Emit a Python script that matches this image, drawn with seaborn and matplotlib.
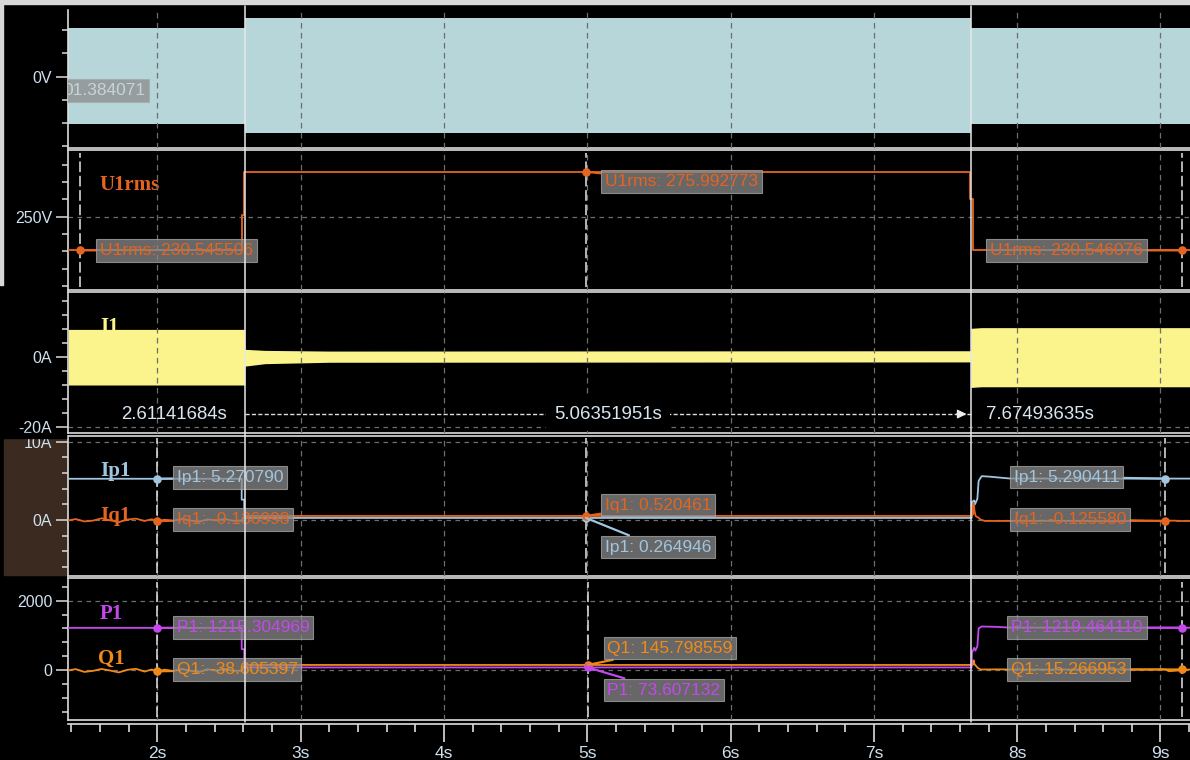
import matplotlib
matplotlib.use("Agg")
import matplotlib.pyplot as plt
import seaborn as sns
from matplotlib.patches import Rectangle
from matplotlib.lines import Line2D
from matplotlib.transforms import blended_transform_factory
from matplotlib.ticker import MultipleLocator

# ---------------------------------------------------------------- data
x_range = [1.378, 9.206]
x_major = [2, 3, 4, 5, 6, 7, 8, 9]
x_labels = ["2s", "3s", "4s", "5s", "6s", "7s", "8s", "9s"]
cursor_times = [2.61141684, 7.67493635]
cursor_labels = ["2.61141684s", "5.06351951s", "7.67493635s"]

# U1 waveform envelope (V)
u1_env_t = [1.378, 2.611, 2.611, 7.68, 7.68, 9.206]
u1_env_hi = [323, 323, 390, 390, 323, 323]
u1_env_lo = [-320, -320, -380, -380, -320, -320]
u1_readout = "01.384071"

# U1rms (V)
u1rms_t = [1.378, 2.588, 2.588, 2.606, 2.606, 7.671, 7.671, 7.689, 7.689, 9.206]
u1rms_v = [230.55, 230.55, 251.0, 251.0, 275.99, 275.99, 260.2, 260.2, 230.55, 230.55]
u1rms_mark_t = [1.460, 4.991, 9.148]
u1rms_mark_v = [230.545506, 275.992773, 230.546076]

# I1 waveform envelope (A)
i1_t = [1.378, 2.611, 2.611, 2.75, 3.2, 7.675, 7.675, 7.75, 9.206]
i1_hi = [7.8, 7.8, 2.1, 1.8, 1.6, 1.7, 8.1, 8.3, 8.3]
i1_lo = [-8.1, -8.1, -2.7, -2.0, -1.6, -1.5, -8.8, -8.6, -8.6]

# Ip1 / Iq1 (A)
ip1_t = [1.378, 2.588, 2.588, 2.606, 2.606, 7.682, 7.684, 7.700, 7.705, 7.722,
         7.731, 7.752, 7.80, 7.95, 9.206]
ip1_v = [5.27, 5.27, 2.6, 2.6, 0.265, 0.265, 2.3, 2.5, 2.0, 2.7,
         5.0, 5.6, 5.55, 5.30, 5.29]
iq1_t = [1.378, 1.43, 1.49, 1.55, 1.61, 1.67, 1.73, 1.79, 1.85, 1.91, 1.96, 2.0,
         2.05, 2.11, 2.17, 2.23, 2.29, 2.35, 2.41, 2.47, 2.53, 2.588, 2.606,
         7.682, 7.686, 7.690, 7.696, 7.702, 7.710, 7.725, 7.745, 7.775, 7.85,
         8.2, 8.6, 8.9, 9.10, 9.12, 9.206]
iq1_v = [-0.05, 0.12, -0.18, -0.08, 0.22, -0.04, -0.28, 0.06, 0.18, -0.12, 0.10, -0.14,
         0.04, -0.10, 0.16, -0.06, -0.22, 0.08, -0.04, 0.14, -0.10, -0.08, 0.52,
         0.52, 1.6, 0.7, 2.1, 1.2, 0.5, 0.35, 0.05, -0.12, -0.12,
         -0.10, -0.14, -0.12, -0.08, -0.13, -0.12]
ip1_mark_t = [1.999, 4.991, 9.031]
ip1_mark_v = [5.270790, 0.264946, 5.290411]
iq1_mark_t = [1.999, 4.991, 9.031]
iq1_mark_v = [-0.136998, 0.520461, -0.125580]

# P1 / Q1 (W, var)
p1_t = [1.378, 2.588, 2.588, 2.606, 2.606, 7.682, 7.684, 7.700, 7.708, 7.722,
        7.731, 7.752, 7.85, 7.95, 9.206]
p1_v = [1215.3, 1215.3, 600, 600, 73.6, 73.6, 500, 640, 560, 680,
        1200, 1255, 1245, 1222, 1219.5]
q1_t = [1.378, 1.43, 1.49, 1.55, 1.61, 1.67, 1.73, 1.79, 1.85, 1.91, 1.96, 2.0,
        2.05, 2.11, 2.17, 2.23, 2.29, 2.35, 2.41, 2.47, 2.53, 2.588, 2.606,
        7.682, 7.686, 7.690, 7.696, 7.702, 7.710, 7.725, 7.745, 7.775, 7.85,
        8.2, 8.6, 8.9, 9.03, 9.06, 9.206]
q1_v = [-10, 25, -55, -25, 30, -15, -70, 5, 35, -45, 15, -38.6,
        10, -30, 30, -20, -60, 20, -15, 30, -25, -20, 145.8,
        145.8, 260, 150, 280, 170, 130, 60, 15, 15, 18,
        12, 16, 14, 20, -35, 15]
p1_mark_t = [1.999, 5.003, 9.148]
p1_mark_v = [1215.304969, 73.607132, 1219.464110]
q1_mark_t = [1.999, 5.003, 9.148]
q1_mark_v = [-38.605397, 145.798559, 15.266953]

# ---------------------------------------------------------------- style
sns.set_theme(style="dark", rc={"axes.facecolor": "black", "figure.facecolor": "black"})
plt.rcParams["font.family"] = ["Liberation Sans", "DejaVu Sans"]

BG = "black"
SPINE = "#dcdcdc"
TICKLBL = "#cfe0ef"
GRID = "#6e6e6e"
U_FILL = "#b7d6da"
I_FILL = "#fbf48c"
C_U1RMS = "#e5641f"
C_IP1 = "#9fc5e0"
C_IQ1 = "#e5641f"
C_P1 = "#c548ef"
C_Q1 = "#f08a17"
MARK_LINE = "#e6e6e6"
BOX_FS = 12.5

W, H = 1190, 760
PT = 0.72  # points per pixel at dpi 100
fig = plt.figure(figsize=(W / 100, H / 100), dpi=100, facecolor=BG)


def fy(y):
    return 1 - y / H


LEFT = 68.3


def panel(top, bottom):
    return fig.add_axes([LEFT / W, fy(bottom), 1 - LEFT / W, (bottom - top) / H])


ax1 = panel(10, 147.7)
ax2 = panel(150, 290)
ax3 = panel(292.3, 433.3)
ax4 = panel(435.7, 576)
ax5 = panel(578.3, 720)
axx = fig.add_axes([LEFT / W, fy(723.5), 1 - LEFT / W, 0.5 / H])

# decorative figure regions
fig.add_artist(Rectangle((4 / W, fy(575)), 62.5 / W, (575 - 438.3) / H,
                         transform=fig.transFigure, color="#3a2a1f", zorder=-1))
fig.add_artist(Rectangle((0, fy(438.3)), 66 / W, 5 / H,
                         transform=fig.transFigure, color="black", zorder=5))
fig.add_artist(Rectangle((0, fy(4)), 1, 4 / H, transform=fig.transFigure,
                         color="#d8d8d8", zorder=10))
fig.add_artist(Rectangle((0, fy(285)), 3 / W, 285 / H, transform=fig.transFigure,
                         color="#d8d8d8", zorder=10))


def style(ax, ylim, major, labels, minor, hgrid=True, top_spine=True):
    ax.set_facecolor(BG)
    ax.set_xlim(x_range)
    ax.set_ylim(ylim)
    ax.spines["right"].set_visible(False)
    for s in ["left", "top", "bottom"]:
        ax.spines[s].set_color(SPINE)
        ax.spines[s].set_linewidth(1.2)
    ax.spines["top"].set_visible(top_spine)
    ax.set_xticks([])
    ax.set_yticks(major)
    ax.set_yticklabels(labels)
    ax.set_yticks(minor, minor=True)
    ax.tick_params(axis="y", which="major", left=True, length=12 * PT, width=1.1,
                   color=SPINE, labelcolor=TICKLBL, labelsize=11.5, pad=4 * PT)
    ax.tick_params(axis="y", which="minor", left=True, length=6 * PT, width=1.1, color=SPINE)
    ax.set_xlabel("")
    ax.set_ylabel("")
    ax.grid(False)
    for xm in x_major:
        ax.axvline(xm, color=GRID, lw=0.9, ls=(0, (4.5, 3.5)), zorder=3)
    if hgrid:
        for ym in major:
            ax.axhline(ym, color=GRID, lw=0.9, ls=(0, (3.6, 3.6)), zorder=0.5)


def series(ax, t, v, color, lw=1.3):
    sns.lineplot(x=t, y=v, ax=ax, color=color, linewidth=lw, estimator=None,
                 sort=False, legend=False, zorder=4)


def dots(ax, t, v, color):
    sns.scatterplot(x=t, y=v, ax=ax, color=color, s=38, linewidth=0,
                    legend=False, zorder=6)


def marker_lines(ax, times, lo, hi):
    for tm in times:
        ax.axvline(tm, ymin=lo, ymax=hi, color=MARK_LINE, lw=1.1,
                   ls=(0, (7, 2.4)), zorder=5)


BOX = dict(boxstyle="square,pad=0.22", fc="#8a8a8a", ec="#a8a8a8", lw=0.8, alpha=0.75)


def readout(ax, t, v, text, color, dx, dy, ha="left"):
    ax.annotate(text, xy=(t, v), xytext=(dx * PT, dy * PT), textcoords="offset points",
                ha=ha, va="center", color=color, fontsize=BOX_FS, zorder=7, bbox=BOX,
                arrowprops=dict(arrowstyle="-", color=color, lw=1.6,
                                shrinkA=0, shrinkB=0))


def name(ax, x, y, text, color):
    ax.text(x, y, text, transform=ax.transAxes, color=color, fontsize=15,
            fontweight="bold", family=["Liberation Serif", "DejaVu Serif"],
            ha="left", va="baseline", zorder=1)


# ---------------------------------------------------------------- panel 1: U1
style(ax1, (-477, 445.6), [0], ["0V"], [-465, -310, -155, 155, 310],
      hgrid=False, top_spine=False)
ax1.fill_between(u1_env_t, u1_env_lo, u1_env_hi, color=U_FILL, lw=0, zorder=2)
ax1.text(0.0684, 0.415, u1_readout, transform=ax1.transAxes, ha="right", va="center",
         color="#c6d4d8", fontsize=BOX_FS, zorder=7, clip_on=True, bbox=BOX)

# ---------------------------------------------------------------- panel 2: U1rms
style(ax2, (207.6, 288.6), [250], ["250V"], list(range(210, 290, 10)))
series(ax2, u1rms_t, u1rms_v, C_U1RMS)
marker_lines(ax2, u1rms_mark_t, 0.02, 0.98)
dots(ax2, u1rms_mark_t, u1rms_mark_v, C_U1RMS)
name(ax2, 0.0276, 0.714, "U1rms", C_U1RMS)
u_offsets = [(20, 0, "left"), (18.7, -9.7, "left"), (-39, 0, "right")]
for tm, vm, (dx, dy, ha) in zip(u1rms_mark_t, u1rms_mark_v, u_offsets):
    readout(ax2, tm, vm, f"U1rms: {vm:.6f}", C_U1RMS, dx, dy, ha)

# ---------------------------------------------------------------- panel 3: I1
style(ax3, (-21.9, 18.4), [0, -20], ["0A", "-20A"], list(range(-20, 17, 4)))
name(ax3, 0.0283, 0.7206, "I1", I_FILL)
ax3.fill_between(i1_t, i1_lo, i1_hi, color=I_FILL, lw=0, zorder=2)
y_cur = -16.4
ax3.plot(cursor_times, [y_cur, y_cur], color="#dddddd", lw=1.0, ls=(0, (3, 1.6)), zorder=5)
ax3.annotate("", xy=(cursor_times[1], y_cur), xytext=(-14 * PT, 0), textcoords="offset points",
             arrowprops=dict(arrowstyle="-|>,head_length=0.45,head_width=0.22",
                             color="#eeeeee", lw=1.0, shrinkA=0, shrinkB=4 * PT), zorder=6)
txt_kw = dict(color="#d8e6f2", fontsize=13.4, va="center", zorder=7)
ax3.annotate(cursor_labels[0], xy=(cursor_times[0], y_cur), xytext=(-18.5 * PT, 0),
             textcoords="offset points", ha="right", **txt_kw)
ax3.text(sum(cursor_times) / 2, y_cur, cursor_labels[1], ha="center",
         bbox=dict(boxstyle="square,pad=0.45", fc="black", ec="none"), **txt_kw)
ax3.annotate(cursor_labels[2], xy=(cursor_times[1], y_cur), xytext=(15 * PT, 0),
             textcoords="offset points", ha="left", **txt_kw)

# ---------------------------------------------------------------- panel 4: Ip1 / Iq1
style(ax4, (-7.15, 10.77), [10, 0], ["10A", "0A"], list(range(-6, 11, 2)))
series(ax4, ip1_t, ip1_v, C_IP1)
series(ax4, iq1_t, iq1_v, C_IQ1)
marker_lines(ax4, ip1_mark_t, 0.021, 0.984)
dots(ax4, ip1_mark_t, ip1_mark_v, C_IP1)
dots(ax4, iq1_mark_t, iq1_mark_v, C_IQ1)
name(ax4, 0.0283, 0.7128, "Ip1", C_IP1)
name(ax4, 0.0283, 0.392, "Iq1", C_IQ1)
ip_offsets = [(19.4, 1, "left"), (18.7, -29.1, "left"), (-45.7, 1.6, "right")]
iq_offsets = [(19.4, 1.8, "left"), (18.7, 10.9, "left"), (-39, 1.8, "right")]
for tm, vm, (dx, dy, ha) in zip(ip1_mark_t, ip1_mark_v, ip_offsets):
    readout(ax4, tm, vm, f"Ip1: {vm:.6f}", C_IP1, dx, dy, ha)
for tm, vm, (dx, dy, ha) in zip(iq1_mark_t, iq1_mark_v, iq_offsets):
    readout(ax4, tm, vm, f"Iq1: {vm:.6f}", C_IQ1, dx, dy, ha)

# ---------------------------------------------------------------- panel 5: P1 / Q1
style(ax5, (-1442, 2645), [2000, 0], ["2000", "0"], list(range(-1200, 2401, 400)))
series(ax5, q1_t, q1_v, C_Q1)
series(ax5, p1_t, p1_v, C_P1)
marker_lines(ax5, p1_mark_t, 0.023, 0.974)
dots(ax5, q1_mark_t, q1_mark_v, C_Q1)
dots(ax5, p1_mark_t, p1_mark_v, C_P1)
name(ax5, 0.0276, 0.7128, "P1", C_P1)
name(ax5, 0.0267, 0.395, "Q1", C_Q1)
p_offsets = [(19.4, 0.4, "left"), (19.6, -22.6, "left"), (-39, 0, "right")]
q_offsets = [(19.4, 1.6, "left"), (19.6, 16.9, "left"), (-55.7, 0, "right")]
for tm, vm, (dx, dy, ha) in zip(p1_mark_t, p1_mark_v, p_offsets):
    readout(ax5, tm, vm, f"P1: {vm:.6f}", C_P1, dx, dy, ha)
for tm, vm, (dx, dy, ha) in zip(q1_mark_t, q1_mark_v, q_offsets):
    readout(ax5, tm, vm, f"Q1: {vm:.6f}", C_Q1, dx, dy, ha)

# ---------------------------------------------------------------- time axis
axx.set_facecolor(BG)
axx.set_xlim(x_range)
axx.set_ylim(0, 1)
axx.set_yticks([])
for s in ["left", "right", "top"]:
    axx.spines[s].set_visible(False)
axx.spines["bottom"].set_color(SPINE)
axx.spines["bottom"].set_linewidth(1.2)
axx.set_xticks(x_major)
axx.set_xticklabels(x_labels)
axx.xaxis.set_minor_locator(MultipleLocator(0.2))
axx.tick_params(axis="x", which="major", bottom=True, direction="out", length=18 * PT,
                width=1.2, color=SPINE, labelcolor=TICKLBL, labelsize=12.5, pad=5 * PT)
axx.tick_params(axis="x", which="minor", bottom=True, direction="out", length=8 * PT,
                width=1.2, color=SPINE)

# ---------------------------------------------------------------- cursors (full height)
blend = blended_transform_factory(ax5.transData, fig.transFigure)
for tc in cursor_times:
    fig.add_artist(Line2D([tc, tc], [fy(6), fy(722)], transform=blend,
                          color="#e8e8e8", lw=1.1, zorder=6))

fig.savefig("out.png", dpi=100, facecolor=BG)
